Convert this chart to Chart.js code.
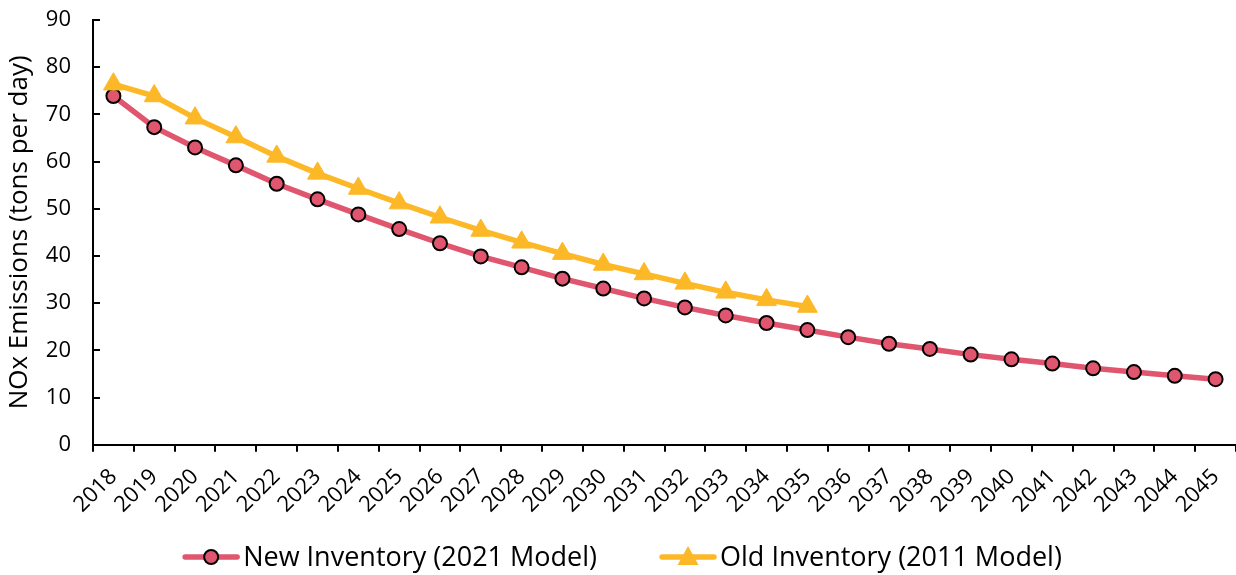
<!DOCTYPE html>
<html>
<head>
<meta charset="utf-8">
<script src="https://cdn.jsdelivr.net/npm/chart.js@4/dist/chart.umd.min.js"></script>
<style>
  html, body { margin: 0; padding: 0; background: #fff; overflow: hidden; }
  #wrap { width: 1236px; height: 575px; position: relative; }
  #c { display: block; }
</style>
</head>
<body>
<div id="wrap"><canvas id="c"></canvas></div>
<script>
// Forecast years on the category axis
const years = ['2018','2019','2020','2021','2022','2023','2024','2025','2026','2027',
  '2028','2029','2030','2031','2032','2033','2034','2035','2036','2037',
  '2038','2039','2040','2041','2042','2043','2044','2045'];

// NOx emissions, tons per day
const newInventory = [73.9, 67.3, 63.0, 59.2, 55.3, 52.0, 48.8, 45.7, 42.7, 39.9,
  37.6, 35.2, 33.1, 31.0, 29.1, 27.4, 25.8, 24.3, 22.8, 21.4,
  20.3, 19.1, 18.1, 17.2, 16.2, 15.4, 14.6, 13.9];
const oldInventory = [76.4, 73.9, 69.2, 65.2, 61.1, 57.5, 54.3, 51.2, 48.2, 45.4,
  42.9, 40.5, 38.2, 36.2, 34.2, 32.3, 30.7, 29.3];

const seriesNames = ['New Inventory (2021 Model)', 'Old Inventory (2011 Model)'];
const yTicks = [0, 10, 20, 30, 40, 50, 60, 70, 80, 90];

const PINK = '#E0566F';
const GOLD = '#FDB827';
const FONT = '"Open Sans", "Noto Sans", sans-serif';
const LEGEND_FONT_SIZE = 27;

// Series marker, shared by the legend
function drawMarker(g, kind, x, y) {
  if (kind === 'circle') {
    g.beginPath(); g.arc(x, y, 7, 0, Math.PI * 2);
    g.fillStyle = PINK; g.fill();
    g.lineWidth = 2; g.strokeStyle = '#000'; g.stroke();
  } else {
    g.beginPath();
    g.moveTo(x, y - 11); g.lineTo(x + 10.5, y + 8); g.lineTo(x - 10.5, y + 8); g.closePath();
    g.fillStyle = GOLD; g.fill();
  }
}

// Bottom legend: line sample with marker, then the series name
const lineLegend = {
  id: 'lineLegend',
  afterDraw(chart) {
    const ctx = chart.ctx;
    const sw = 58, gapText = 3, gapItem = 62;
    const cy = chart.height - 18;
    ctx.save();
    ctx.font = LEGEND_FONT_SIZE + 'px ' + FONT;
    const items = chart.data.datasets.map((ds, i) => ({
      text: ds.label,
      color: ds.borderColor,
      kind: ds.pointStyle,
      w: ctx.measureText(ds.label).width
    }));
    const total = items.reduce((s, it) => s + sw + gapText + it.w, 0) + gapItem * (items.length - 1);
    let x = (chart.width - total) / 2 + 4;
    items.forEach(it => {
      ctx.lineCap = 'round';
      ctx.lineWidth = 5.5;
      ctx.strokeStyle = it.color;
      ctx.beginPath(); ctx.moveTo(x + 3, cy); ctx.lineTo(x + sw - 3, cy); ctx.stroke();
      drawMarker(ctx, it.kind, x + sw / 2, cy);
      ctx.fillStyle = '#000';
      ctx.textAlign = 'left';
      ctx.textBaseline = 'middle';
      ctx.fillText(it.text, x + sw + gapText, cy + 1);
      x += sw + gapText + it.w + gapItem;
    });
    ctx.restore();
  }
};

// Short inward tick marks on the value axis
const innerYTicks = {
  id: 'innerYTicks',
  afterDatasetsDraw(chart) {
    const s = chart.scales.y;
    const ctx = chart.ctx;
    ctx.save();
    ctx.strokeStyle = '#000';
    ctx.lineWidth = 2;
    s.ticks.forEach(t => {
      const py = Math.round(s.getPixelForValue(t.value));
      ctx.beginPath();
      ctx.moveTo(s.right, py);
      ctx.lineTo(s.right + 7, py);
      ctx.stroke();
    });
    ctx.restore();
  }
};

new Chart(document.getElementById('c'), {
  type: 'line',
  data: {
    labels: years,
    datasets: [
      {
        label: seriesNames[0],
        data: newInventory,
        borderColor: PINK,
        backgroundColor: PINK,
        borderWidth: 5.5,
        pointStyle: 'circle',
        pointRadius: 7,
        pointBackgroundColor: PINK,
        pointBorderColor: '#000',
        pointBorderWidth: 2,
        tension: 0,
        order: 1
      },
      {
        label: seriesNames[1],
        data: oldInventory,
        borderColor: GOLD,
        backgroundColor: GOLD,
        borderWidth: 5.5,
        pointStyle: 'triangle',
        pointRadius: 11.5,
        pointBackgroundColor: GOLD,
        pointBorderColor: GOLD,
        pointBorderWidth: 1,
        tension: 0,
        order: 0
      }
    ]
  },
  options: {
    responsive: true,
    maintainAspectRatio: false,
    animation: false,
    layout: { autoPadding: false, padding: { top: 0, right: 0, left: 0, bottom: 45 } },
    plugins: {
      tooltip: { enabled: false },
      legend: { display: false }
    },
    scales: {
      x: {
        type: 'category',
        offset: true,
        afterFit(scale) { scale.paddingLeft = 0; scale.paddingRight = 0; },
        grid: {
          offset: true,
          drawOnChartArea: false,
          drawTicks: true,
          tickLength: 7,
          color: '#000',
          lineWidth: 2
        },
        border: { display: true, color: '#000', width: 2 },
        ticks: {
          color: '#000',
          font: { family: FONT, size: 22 },
          minRotation: 45,
          maxRotation: 45,
          autoSkip: false,
          padding: 12
        }
      },
      y: {
        min: 0,
        max: 90,
        afterBuildTicks(scale) { scale.ticks = yTicks.map(v => ({ value: v })); },
        afterFit(scale) { scale.paddingTop = 20; scale.width = 93; },
        grid: { display: true, drawOnChartArea: false, drawTicks: false },
        border: { display: true, color: '#000', width: 2 },
        ticks: {
          color: '#000',
          font: { family: FONT, size: 22 },
          padding: 22
        },
        title: {
          display: true,
          text: 'NOx Emissions (tons per day)',
          color: '#000',
          font: { family: FONT, size: 26 },
          padding: { top: 4, bottom: 11 }
        }
      }
    }
  },
  plugins: [innerYTicks, lineLegend]
});
</script>
</body>
</html>
